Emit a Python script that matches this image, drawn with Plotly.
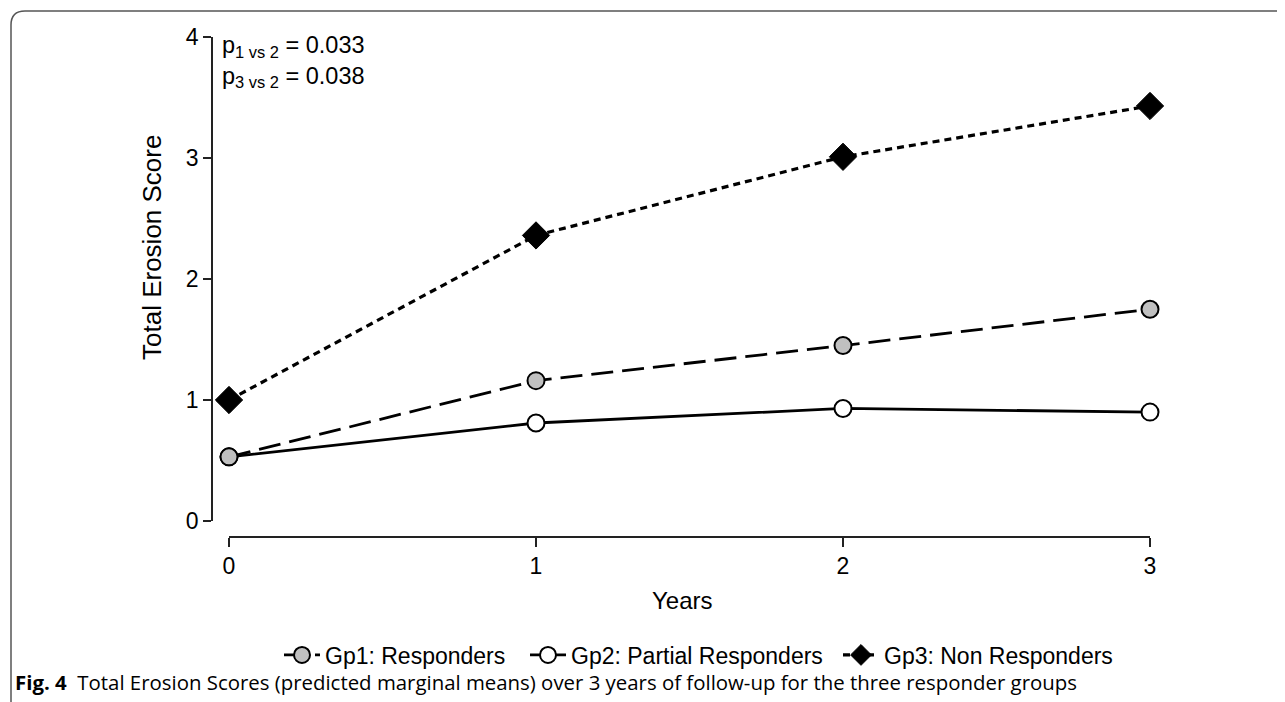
import plotly.graph_objects as go

years = [0, 1, 2, 3]
gp1 = [0.53, 1.16, 1.45, 1.75]
gp2 = [0.53, 0.81, 0.93, 0.90]
gp3 = [1.00, 2.36, 3.01, 3.43]
names = ["Gp1: Responders", "Gp2: Partial Responders", "Gp3: Non Responders"]
x_ticks = [0, 1, 2, 3]
y_ticks = [0, 1, 2, 3, 4]

OFF = 8  # page body margin
W, H = 1285 - OFF, 702 - OFF
L, R, T, B = 212, 1150, 37, 537   # plot box in screenshot pixels
pw, ph = R - L, B - T

def px(x):
    return (x - L) / pw

def py(y):
    return (B - y) / ph

SANS = "Liberation Sans, Arial, Helvetica, sans-serif"

fig = go.Figure()
fig.add_trace(go.Scatter(x=years, y=gp2, name=names[1], mode="lines+markers",
                         line=dict(color="black", width=2.8, dash="solid"),
                         marker=dict(symbol="circle", size=17, color="white",
                                     line=dict(color="black", width=2)),
                         legend="legend2", cliponaxis=False))
fig.add_trace(go.Scatter(x=years, y=gp1, name=names[0], mode="lines+markers",
                         line=dict(color="black", width=2.8, dash="22px,9px"),
                         marker=dict(symbol="circle", size=17, color="#c0c0c0",
                                     line=dict(color="black", width=2)),
                         legend="legend", cliponaxis=False))
fig.add_trace(go.Scatter(x=years, y=gp3, name=names[2], mode="lines+markers",
                         line=dict(color="black", width=3.2, dash="7px,5px"),
                         marker=dict(symbol="diamond", size=21, color="black",
                                     line=dict(color="black", width=1)),
                         legend="legend3", cliponaxis=False))

IW = 36
TXT_OFF = 47  # legend x -> text start (px)
leg_common = dict(orientation="h", yanchor="middle", xanchor="left",
                  font=dict(size=23, family=SANS), itemwidth=IW,
                  bgcolor="rgba(0,0,0,0)", borderwidth=0)

fig.update_layout(
    width=W, height=H,
    margin=dict(l=L - OFF, r=W - (R - OFF), t=T - OFF, b=H - (B - OFF)),
    paper_bgcolor="white", plot_bgcolor="white",
    font=dict(family=SANS, color="black", size=23),
    showlegend=True,
    legend=dict(x=px(326 - TXT_OFF), y=py(655), **leg_common),
    legend2=dict(x=px(572 - TXT_OFF), y=py(655), **leg_common),
    legend3=dict(x=px(885 - TXT_OFF), y=py(655), **leg_common),
    xaxis=dict(domain=[px(229), 1], range=[0, 3], anchor="free", position=0,
               tickvals=x_ticks, ticks="outside", ticklen=9, tickwidth=1.5,
               tickcolor="#222", showline=True, linecolor="#222", linewidth=1.5,
               showgrid=False, zeroline=False, tickfont=dict(size=23)),
    yaxis=dict(domain=[py(521), 1], range=[0, 4], anchor="free", position=0,
               tickvals=y_ticks, ticks="outside", ticklen=8, tickwidth=1.5,
               tickcolor="#222", showline=True, linecolor="#222", linewidth=1.5,
               showgrid=False, zeroline=False, tickfont=dict(size=23)),
)

# axis titles
fig.add_annotation(x=px(682), y=py(600), xref="paper", yref="paper",
                   xanchor="center", yanchor="middle", showarrow=False,
                   text="Years", font=dict(size=24))
fig.add_annotation(x=px(152), y=py(248), xref="paper", yref="paper",
                   xanchor="center", yanchor="middle", showarrow=False, textangle=-90,
                   text="Total Erosion Score", font=dict(size=26))

# p-value annotation
fig.add_annotation(x=px(220), y=py(61), xref="paper", yref="paper", xanchor="left",
                   yanchor="middle", showarrow=False, align="left",
                   text="p<sub>1 vs 2</sub> = 0.033<br>p<sub>3 vs 2</sub> = 0.038",
                   font=dict(size=23.5))

# caption
fig.add_annotation(x=px(13), y=py(682), xref="paper", yref="paper", xanchor="left",
                   yanchor="middle", showarrow=False,
                   text="<b>Fig. 4</b>  Total Erosion Scores (predicted marginal means) over 3 years of follow-up for the three responder groups",
                   font=dict(size=20.4, family="Open Sans, sans-serif"))

# rounded frame
xl, xr = px(11), px(1295)
yt, yb = py(11), py(710)
rx, ry = 14 / pw, 14 / ph
path = f"M {xl},{yb} L {xl},{yt - ry} Q {xl},{yt} {xl + rx},{yt} L {xr},{yt}"
fig.add_shape(type="path", path=path, xref="paper", yref="paper",
              line=dict(color="#555555", width=1.5))

fig.write_html("out.html")
